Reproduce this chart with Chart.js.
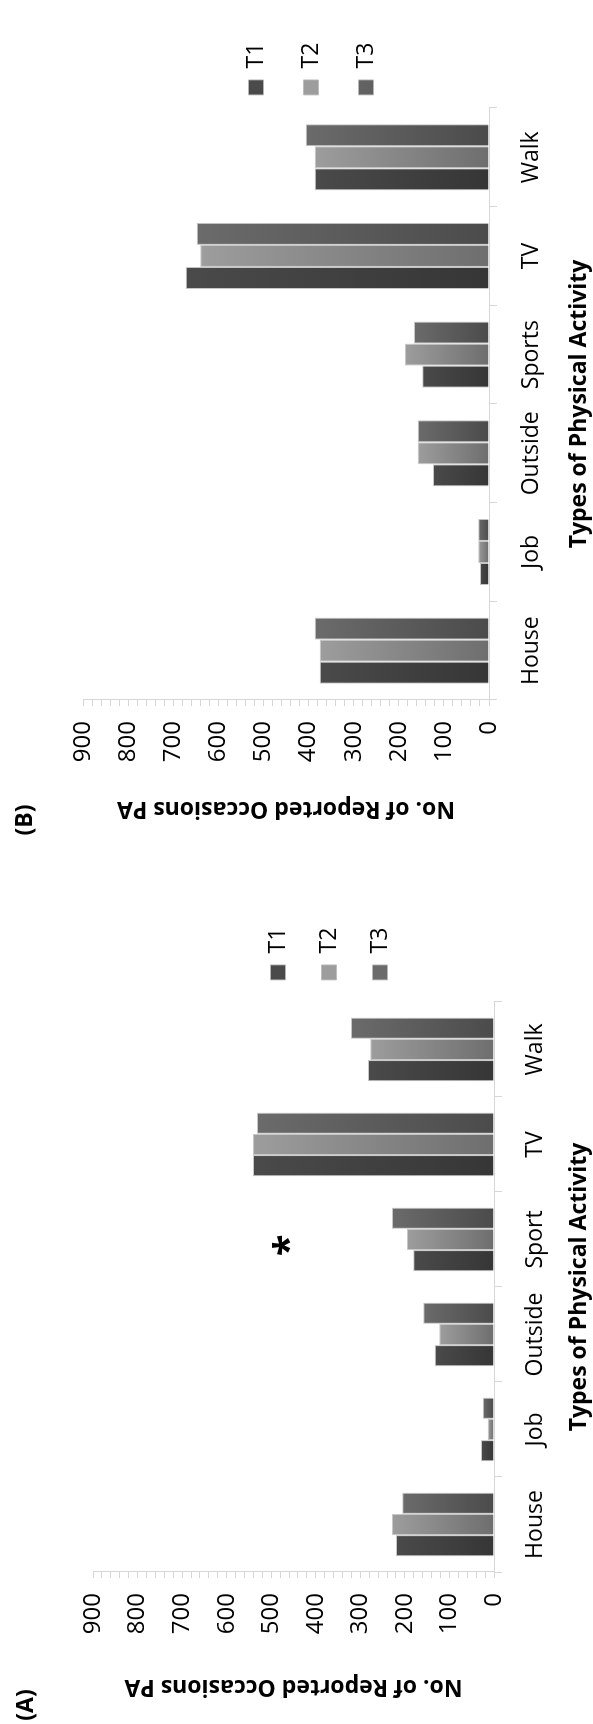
<!DOCTYPE html>
<html>
<head>
<meta charset="utf-8">
<title>Reported occasions of physical activity</title>
<script src="https://cdn.jsdelivr.net/npm/chart.js@4.4.1/dist/chart.umd.min.js"></script>
<style>
    html, body { margin: 0; padding: 0; background: #fff; }
    body { width: 593px; height: 1724px; position: relative; overflow: hidden; }
    .panel { position: absolute; left: 0; width: 593px; height: 862px; overflow: hidden; }
    /* the figure is printed turned a quarter turn counter-clockwise */
    .rot { position: absolute; left: 0; top: 0; width: 862px; height: 593px;
           transform-origin: 0 0; transform: translate(0, 862px) rotate(-90deg); }
</style>
</head>
<body>
<div class="panel" style="top:0"><div class="rot"><canvas id="chartB"></canvas></div></div>
<div class="panel" style="top:862px"><div class="rot"><canvas id="chartA"></canvas></div></div>

<script>
// values
const categoriesA = ['House', 'Job', 'Outside', 'Sport', 'TV', 'Walk'];
const categoriesB = ['House', 'Job', 'Outside', 'Sports', 'TV', 'Walk'];
const seriesNames = ['T1', 'T2', 'T3'];

const t1A = [220, 29, 133, 181, 541, 283];
const t2A = [229, 14, 123, 195, 541, 278];
const t3A = [206, 25, 159, 229, 532, 321];

const t1B = [375, 20, 124, 148, 672, 386];
const t2B = [375, 24, 158, 186, 640, 386];
const t3B = [386, 24, 158, 166, 648, 406];

const valueTickLabels = [0, 100, 200, 300, 400, 500, 600, 700, 800, 900];
const starCategoryA = 'Sport';
const starValueA = 480;

Chart.defaults.font.family = '"Open Sans", sans-serif';
Chart.defaults.color = '#000';

// light at the end of the bar, dark at its base
const barColors = [
    { light: '#4a4a4a', dark: '#363636', solid: '#404040' },
    { light: '#9d9d9d', dark: '#6e6e6e', solid: '#8a8a8a' },
    { light: '#6b6b6b', dark: '#4b4b4b', solid: '#5c5c5c' }
];

function barFill(c) {
    return function (ctx) {
        if (ctx.type !== 'data') return c.solid;
        const chart = ctx.chart;
        const y = chart.scales.y;
        if (!y || !chart.chartArea) return c.solid;
        const top = y.getPixelForValue(ctx.raw);
        const base = y.getPixelForValue(0);
        const g = chart.ctx.createLinearGradient(0, top, 0, base);
        g.addColorStop(0, c.light);
        g.addColorStop(1, c.dark);
        return g;
    };
}

const panelExtras = {
    id: 'panelExtras',
    afterLayout(chart, args, opts) {
        const lg = chart.legend;
        if (lg && opts.legendShift) {
            lg.left += opts.legendShift[0];
            lg.right += opts.legendShift[0];
            lg.top += opts.legendShift[1];
            lg.bottom += opts.legendShift[1];
        }
    },
    afterDraw(chart, args, opts) {
        const ctx = chart.ctx;
        ctx.save();
        ctx.fillStyle = '#000';
        ctx.textAlign = 'center';
        ctx.textBaseline = 'middle';
        ctx.font = 'bold 23px "Open Sans"';
        ctx.fillText(opts.tag, opts.tagPos[0], opts.tagPos[1]);
        if (opts.starCategory) {
            const x = chart.scales.x.getPixelForValue(chart.data.labels.indexOf(opts.starCategory));
            const y = chart.scales.y.getPixelForValue(opts.starValue);
            ctx.font = 'bold 40px "Open Sans"';
            ctx.textBaseline = 'alphabetic';
            ctx.fillText('*', x - 6, y + 22);
        }
        ctx.restore();
    }
};

function createPanel(canvasId, labels, series, look) {
    const ctx = document.getElementById(canvasId).getContext('2d');
    new Chart(ctx, {
        type: 'bar',
        data: {
            labels: labels,
            datasets: series.map(function (values, i) {
                return {
                    label: seriesNames[i],
                    data: values,
                    backgroundColor: barFill(barColors[i]),
                    borderColor: 'rgba(185,185,185,0.8)',
                    borderWidth: 1,
                    categoryPercentage: 0.67,
                    barPercentage: 1.0
                };
            })
        },
        options: {
            responsive: true,
            maintainAspectRatio: false,
            animation: false,
            layout: { padding: look.padding },
            plugins: {
                legend: {
                    display: true,
                    position: 'right',
                    fullSize: false,
                    labels: {
                        boxWidth: 15,
                        boxHeight: 15,
                        padding: look.legendPad,
                        font: { size: 23 },
                        color: '#000'
                    }
                },
                tooltip: { enabled: false },
                panelExtras: {
                    tag: look.tag,
                    tagPos: look.tagPos,
                    legendShift: look.legendShift,
                    starCategory: look.starCategory,
                    starValue: look.starValue
                }
            },
            scales: {
                x: {
                    offset: true,
                    grid: {
                        offset: true,
                        drawOnChartArea: false,
                        drawTicks: true,
                        tickLength: 8,
                        color: '#d6d6d6'
                    },
                    border: { display: true, color: '#d6d6d6' },
                    ticks: { font: { size: 23 }, padding: look.xLabelPad, color: '#000' },
                    title: {
                        display: true,
                        text: 'Types of Physical Activity',
                        font: { size: 23, weight: 'bold' },
                        padding: { top: 0, bottom: 0 },
                        color: '#000'
                    },
                    afterFit: function (scale) { scale.height = look.xAxisHeight; }
                },
                y: {
                    min: 0,
                    max: 900,
                    grid: {
                        drawOnChartArea: false,
                        drawTicks: true,
                        tickLength: 6,
                        color: '#d6d6d6'
                    },
                    border: { display: true, color: '#d6d6d6' },
                    ticks: {
                        stepSize: 20,
                        autoSkip: false,
                        padding: 15,
                        font: { size: 24 },
                        color: '#000',
                        callback: function (value) {
                            return valueTickLabels.includes(value) ? value : '';
                        }
                    },
                    title: {
                        display: true,
                        text: 'No. of Reported Occasions PA',
                        font: { size: 23, weight: 'bold' },
                        padding: { top: look.yTitlePad, bottom: 0 },
                        color: '#000'
                    },
                    afterFit: function (scale) { scale.width = look.yAxisWidth; }
                }
            }
        },
        plugins: [panelExtras]
    });
}

createPanel('chartB', categoriesB, [t1B, t2B, t3B], {
    padding: { top: 83, bottom: 0, left: 0, right: 13.6 },
    yAxisWidth: 162,
    xAxisHeight: 104,
    yTitlePad: 40,
    xLabelPad: 21,
    legendPad: 32,
    legendShift: [-19, 25],
    tag: '(B)',
    tagPos: [42, 25]
});

createPanel('chartA', categoriesA, [t1A, t2A, t3A], {
    padding: { top: 93, bottom: 0, left: 0, right: 49.6 },
    yAxisWidth: 152,
    xAxisHeight: 99,
    yTitlePad: 24,
    xLabelPad: 20,
    legendPad: 28,
    legendShift: [-6, 35.5],
    tag: '(A)',
    tagPos: [19, 26],
    starCategory: starCategoryA,
    starValue: starValueA
});
</script>
</body>
</html>
